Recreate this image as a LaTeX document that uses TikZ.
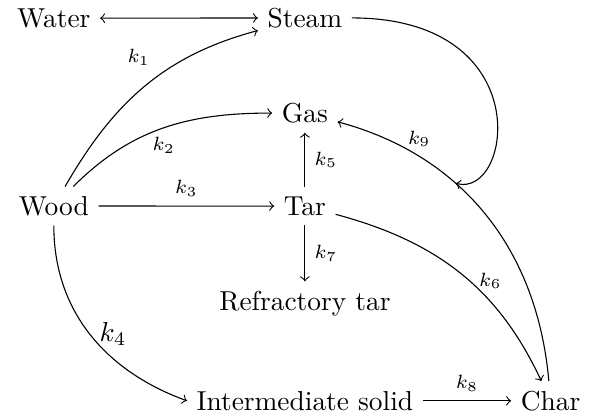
\documentclass[tikz,border=0pt]{standalone}
\usepackage{amsmath,amssymb}
\usepackage{tikz}

\begin{document}
\begin{tikzpicture}[>=to, species/.style={anchor=base}, rate/.style={font=\scriptsize}]
    \useasboundingbox (-0.69,-2.59) rectangle (6.94,2.76);
    \node[species] (water) at (0,2.41) {Water};
    \node[species] (steam) at (3.22,2.41) {Steam};
    \node[species] (gas) at (3.22,1.19) {Gas};
    \node[species] (wood) at (0,0) {Wood};
    \node[species] (tar) at (3.22,0) {Tar};
    \node[species] (reftar) at (3.22,-1.22) {Refractory tar};
    \node[species] (inter) at (3.22,-2.5) {Intermediate solid};
    \node[species] (char) at (6.37,-2.5) {Char};
    \draw[<->] (water) -- (steam);
    \draw[->] (wood) to[out=60,in=195] node[rate,pos=0.58,above left] {$k_1$} (steam);
    \draw[->] (wood) to[out=45,in=180] node[rate,below] {$k_2$} (gas);
    \draw[->] (wood) -- node[rate,above] {$k_3$} (tar);
    \draw[->] (wood) to[out=-90,in=160] node[right] {$k_4$} (inter.west);
    \draw[->] (tar) -- node[rate,right] {$k_5$} (gas);
    \draw[->] (tar) -- node[rate,right] {$k_7$} (reftar);
    \draw[->] (tar) to[out=-15,in=115] node[rate,pos=0.55,right] {$k_6$} (char);
    \draw[->] (inter) -- node[rate,above] {$k_8$} (char);
    \draw[->] (char) to[out=95,in=-15] coordinate[pos=0.63] (hit) node[rate,pos=0.76,above] {$k_9$} (gas);
    \draw[->] (steam) to[out=0,in=-15,out distance=2.4cm,in distance=0.75cm] (hit);
\end{tikzpicture}
\end{document}
